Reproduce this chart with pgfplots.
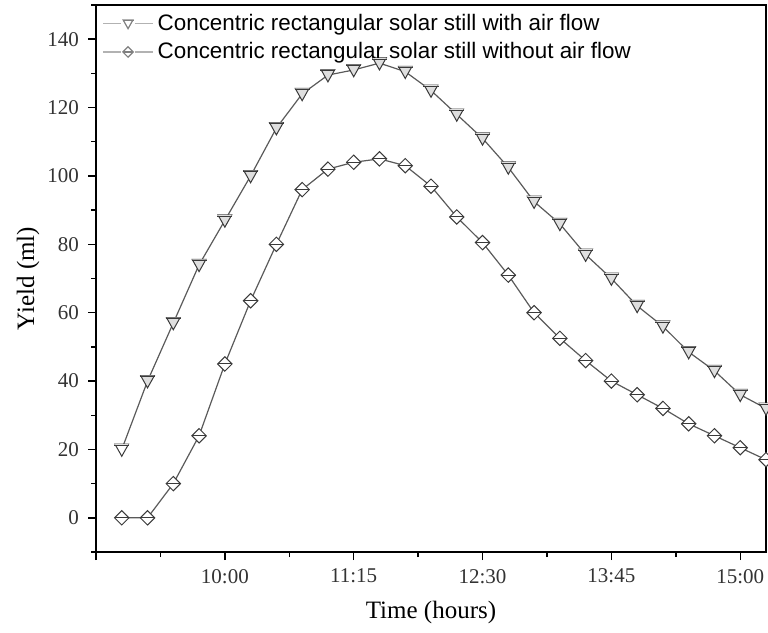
\documentclass[border=0pt]{standalone}
\usepackage{fontspec}
\setmainfont{Liberation Serif}
\setsansfont{Liberation Sans}
\usepackage{pgfplots}
\pgfplotsset{compat=1.18}

\definecolor{lin}{HTML}{5A5A5A}
\definecolor{mk}{HTML}{3A3A3A}

% half-marked symbols as in the original plot
\pgfdeclareplotmark{htri}{%
  \pgfpathmoveto{\pgfqpoint{-0.95\pgfplotmarksize}{0.75\pgfplotmarksize}}%
  \pgfpathlineto{\pgfqpoint{0.95\pgfplotmarksize}{0.75\pgfplotmarksize}}%
  \pgfpathlineto{\pgfqpoint{0pt}{-0.95\pgfplotmarksize}}%
  \pgfpathclose
  \pgfusepathqfillstroke
  \pgfsetfillcolor{gray!25}%
  \pgfpathmoveto{\pgfqpoint{-0.95\pgfplotmarksize}{0.75\pgfplotmarksize}}%
  \pgfpathlineto{\pgfqpoint{0.95\pgfplotmarksize}{0.75\pgfplotmarksize}}%
  \pgfpathlineto{\pgfqpoint{0.85\pgfplotmarksize}{0.57\pgfplotmarksize}}%
  \pgfpathlineto{\pgfqpoint{-0.85\pgfplotmarksize}{0.57\pgfplotmarksize}}%
  \pgfpathclose
  \pgfusepathqfill
  \pgfpathmoveto{\pgfqpoint{-1.05\pgfplotmarksize}{0.57\pgfplotmarksize}}%
  \pgfpathlineto{\pgfqpoint{1.05\pgfplotmarksize}{0.57\pgfplotmarksize}}%
  \pgfusepathqstroke
}
\pgfdeclareplotmark{hdia}{%
  \pgfpathmoveto{\pgfqpoint{0pt}{\pgfplotmarksize}}%
  \pgfpathlineto{\pgfqpoint{\pgfplotmarksize}{0pt}}%
  \pgfpathlineto{\pgfqpoint{0pt}{-\pgfplotmarksize}}%
  \pgfpathlineto{\pgfqpoint{-\pgfplotmarksize}{0pt}}%
  \pgfpathclose
  \pgfusepathqfillstroke
  \pgfpathmoveto{\pgfqpoint{-\pgfplotmarksize}{0pt}}%
  \pgfpathlineto{\pgfqpoint{\pgfplotmarksize}{0pt}}%
  \pgfusepathqstroke
}

\begin{document}
\begin{tikzpicture}
\begin{axis}[
    scale only axis,
    width=335pt, height=273.5pt,
    xmin=525, xmax=915,
    ymin=-10, ymax=150,
    xtick={525,600,675,750,825,900},
    xticklabels={,10:00,11:15,12:30,13:45,15:00},
    minor xtick={562.5,637.5,712.5,787.5,862.5},
    ytick={0,20,...,140},
    minor ytick={-10,10,...,150},
    tick align=outside,
    xtick pos=bottom, ytick pos=left,
    major tick length=4pt, minor tick length=2.5pt,
    every tick/.style={black, line width=0.7pt},
    axis line style={line width=0.9pt},
    /pgf/number format/assume math mode=true,
    tick label style={font=\fontsize{10.5}{12}\selectfont, text=black!80},
    xticklabel style={yshift=-1pt},
    yticklabel style={xshift=-1pt},
    xlabel={Time (hours)},
    ylabel={Yield (ml)},
    label style={font=\fontsize{12.5}{14}\selectfont},
    xlabel style={at={(axis description cs:0.5,0)}, anchor=center, yshift=-30pt},
    ylabel style={at={(axis description cs:-0.1015,0.5)}, anchor=center},
    clip=false,
    legend cell align=left,
    legend style={draw=none, fill=none, at={(0.006,0.995)}, anchor=north west,
        font=\sffamily\fontsize{11.2}{13}\selectfont, inner sep=1pt,
        row sep=0.5pt},
    legend image code/.code={%
        \draw[gray!60, line width=0.6pt] (0cm,0cm) -- (0.32cm,0cm) (0.56cm,0cm) -- (0.88cm,0cm);
        \draw[#1, mark size=2.6pt, mark options={draw=gray, fill=white}] plot coordinates {(0.44cm,0cm)};},
]

\addplot[color=lin, line width=0.6pt, mark=htri, mark size=3.6pt,
    mark options={draw=mk, fill=white, line width=0.5pt}]
    coordinates {
    (540,20)(555,40)(570,57)(585,74)(600,87)(615,100)(630,114)(645,124)
    (660,129.5)(675,131)(690,133)(705,130.5)(720,125)(735,118)(750,111)
    (765,102.5)(780,92.5)(795,86)(810,77)(825,70)(840,62)(855,56)
    (870,48.5)(885,43)(900,36)(915,32)
    };

\addplot[color=lin, line width=0.6pt, mark=hdia, mark size=3.6pt,
    mark options={draw=mk, fill=white, line width=0.5pt}]
    coordinates {
    (540,0)(555,0)(570,10)(585,24)(600,45)(615,63.5)(630,80)(645,96)
    (660,102)(675,104)(690,105)(705,103)(720,97)(735,88)(750,80.5)
    (765,71)(780,60)(795,52.5)(810,46)(825,40)(840,36)(855,32)
    (870,27.5)(885,24)(900,20.5)(915,17)
    };

\legend{Concentric rectangular solar still with air flow,
        Concentric rectangular solar still without air flow}
\end{axis}
\pgfresetboundingbox
\useasboundingbox ([xshift=-48pt,yshift=-40pt]current axis.south west)
    rectangle ([xshift=1pt,yshift=2.5pt]current axis.north east);
\end{tikzpicture}
\end{document}
